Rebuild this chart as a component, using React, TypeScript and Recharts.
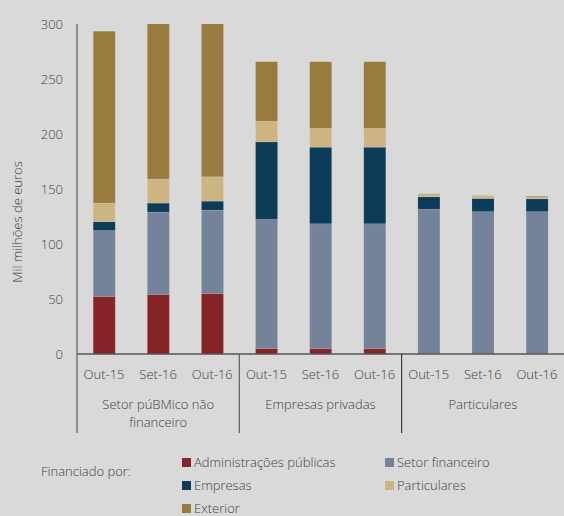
import React from "react";
import { BarChart, Bar, XAxis, YAxis, Label } from "recharts";

const months = ["Out-15", "Set-16", "Out-16", "Out-15", "Set-16", "Out-16", "Out-15", "Set-16", "Out-16"];
const groupLabels = [["Setor púBMico não", "financeiro"], ["Empresas privadas"], ["Particulares"]];
const yTicks = [0, 50, 100, 150, 200, 250, 300];

const adminValues = [52.4, 54.2, 55.1, 5.1, 4.8, 4.8, 0.3, 0.3, 0.3];
const finValues = [60, 74.9, 75.8, 117.6, 113.7, 113.7, 131.5, 129.3, 129.3];
const empValues = [8, 8.2, 8.2, 70.3, 69.7, 69.7, 11.2, 11.9, 11.6];
const partValues = [17, 22, 22.1, 18.8, 17.3, 17.3, 2.2, 2.2, 1.5];
const extValues = [156.3, 141, 139.1, 54.2, 60.5, 60.5, 0.5, 0.3, 0.8];

const seriesKeys = ["admin", "fin", "emp", "part", "ext"];
const seriesNames: Record<string, string> = {
  admin: "Administrações públicas",
  fin: "Setor financeiro",
  emp: "Empresas",
  part: "Particulares",
  ext: "Exterior",
};
const seriesColors: Record<string, string> = {
  admin: "#862428",
  fin: "#748399",
  emp: "#0d3c59",
  part: "#cdb483",
  ext: "#9a7b3f",
};

const data = months.map((m, i) => ({
  month: m,
  admin: adminValues[i],
  fin: finValues[i],
  emp: empValues[i],
  part: partValues[i],
  ext: extValues[i],
}));

const W = 564;
const H = 516;
const Y_W = 77;
const BAND = (W - Y_W) / months.length;
const FONT = "'Open Sans', 'DejaVu Sans', sans-serif";
const TEXT = "#404040";
const WEIGHT = 300;

const CategoryTick = (props: any) => {
  const { x, y, payload } = props;
  const i: number = payload.index;
  const gi = Math.floor(i / 3);
  const pos = i % 3;
  return (
    <g>
      <text x={x} y={y + 25} textAnchor="middle" fill={TEXT} fontSize={13} fontFamily={FONT} fontWeight={WEIGHT}>
        {payload.value}
      </text>
      {pos === 1 &&
        groupLabels[gi].map((line, li) => (
          <text key={li} x={x} y={y + 55 + li * 18} textAnchor="middle" fill={TEXT} fontSize={13} fontFamily={FONT} fontWeight={WEIGHT}>
            {line}
          </text>
        ))}
      {pos === 0 && (
        <line
          x1={x - BAND / 2}
          x2={x - BAND / 2}
          y1={y}
          y2={y + 79}
          stroke={gi === 2 ? "#222" : "#666"}
          strokeWidth={gi === 2 ? 1 : 1.3}
        />
      )}
    </g>
  );
};

const Legend = () => (
  <div style={{ position: "absolute", left: 0, top: 0, width: W, height: H, pointerEvents: "none", fontFamily: FONT, fontSize: 13, fontWeight: WEIGHT, color: TEXT }}>
    <div style={{ position: "absolute", left: 41, top: 463, lineHeight: "16px" }}>Financiado por:</div>
    {seriesKeys.map((k, i) => (
      <div
        key={k}
        style={{
          position: "absolute",
          left: i % 2 === 0 ? 182 : 385,
          top: 454 + Math.floor(i / 2) * 23,
          height: 16,
          display: "flex",
          alignItems: "center",
          whiteSpace: "nowrap",
        }}
      >
        <span style={{ display: "inline-block", width: 9, height: 9, background: seriesColors[k], marginRight: 3 }} />
        <span>{seriesNames[k]}</span>
      </div>
    ))}
  </div>
);

export default function App() {
  return (
    <div style={{ position: "absolute", left: 0, top: 0, width: W, height: H, background: "#d9d9d9", fontFamily: FONT }}>
      <BarChart width={W} height={H} data={data} margin={{ top: 24, right: 0, left: 0, bottom: 0 }} barCategoryGap="30%">
        <XAxis
          dataKey="month"
          height={162}
          tickLine={false}
          tickSize={0}
          tickMargin={0}
          interval={0}
          axisLine={{ stroke: "#555", strokeWidth: 1.3 }}
          tick={<CategoryTick />}
        />
        <YAxis
          width={Y_W}
          domain={[0, 300]}
          ticks={yTicks}
          tickLine={false}
          tickSize={0}
          tickMargin={14}
          axisLine={{ stroke: "#666", strokeWidth: 1.3 }}
          tick={{ fill: TEXT, fontSize: 13, fontFamily: FONT, fontWeight: WEIGHT }}
        >
          <Label
            content={() => (
              <text transform="translate(22,222) rotate(-90)" textAnchor="middle" fill={TEXT} fontSize={13} fontFamily={FONT} fontWeight={WEIGHT}>
                Mil milhões de euros
              </text>
            )}
          />
        </YAxis>
        {seriesKeys.map((k) => (
          <Bar
            key={k}
            dataKey={k}
            stackId="a"
            fill={seriesColors[k]}
            stroke="#ffffff"
            strokeOpacity={0.15}
            strokeWidth={0.6}
            isAnimationActive={false}
          />
        ))}
      </BarChart>
      <Legend />
    </div>
  );
}
